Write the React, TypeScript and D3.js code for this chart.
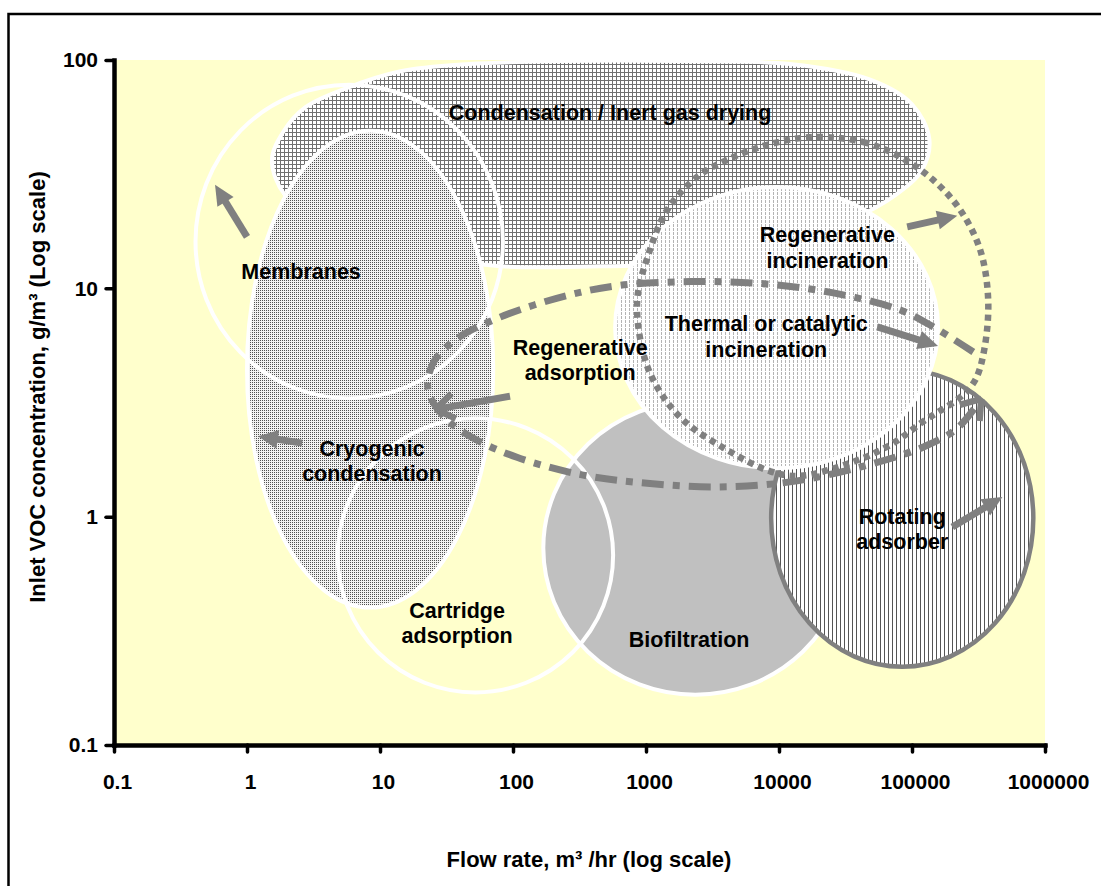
import React, { useEffect, useRef } from "react";
import * as d3 from "d3";

const WIDTH = 1101;
const HEIGHT = 886;

// axis ticks
const xTickValues = [0.1, 1, 10, 100, 1000, 10000, 100000, 1000000];
const xTickLabels = ["0.1", "1", "10", "100", "1000", "10000", "100000", "1000000"];
const yTickValues = [0.1, 1, 10, 100];
const yTickLabels = ["0.1", "1", "10", "100"];

// elliptical windows of each technology: flow m3/hr and inlet conc g/m3
const regionNames = [
  "Membranes",
  "Cryogenic condensation",
  "Cartridge adsorption",
  "Biofiltration",
  "Regenerative incineration",
  "Rotating adsorber",
];
const regionFlowMin = [0.41, 1.0, 4.8, 169, 586, 8730];
const regionFlowMax = [84, 71, 566, 32600, 157000, 817000];
const regionConcMin = [3.3, 0.4, 0.17, 0.166, 1.63, 0.22];
const regionConcMax = [78, 49, 2.7, 3.2, 27.8, 4.4];

// condensation / inert gas drying outline
const condensationFlow = [1.54, 1.87, 2.74, 5.5, 14, 47, 226, 1810, 12100, 48500, 100000, 135000, 119000, 75000, 34400, 10200, 2550, 452, 80, 16.8, 4.2, 1.93];
const condensationConc = [36.5, 48.4, 62, 75, 89, 96, 99, 99, 96, 82, 64, 45, 33, 25.6, 19.9, 15.5, 13, 12.5, 12.5, 14.4, 18.9, 25.6];

// regenerative incineration extended range (dotted)
const dottedFlow = [18100, 43000, 81700, 144500, 231000, 326000, 374000, 349000, 299000, 231000, 126000, 68500, 34400, 14400, 8590, 4070, 1900, 1210, 953, 859, 1040, 1440, 2430, 4070, 8150];
const dottedConc = [46, 43.7, 37.6, 29.8, 22, 14.7, 8.9, 5.37, 3.97, 3.34, 2.65, 2.06, 1.72, 1.51, 1.58, 1.96, 2.65, 3.7, 5.21, 8.9, 14, 22, 30.8, 36.5, 42.5];

// thermal / catalytic incineration range (dash-dot)
const dashFlow = [289000, 144500, 81700, 25600, 7230, 2150, 640, 264, 80, 36.7, 25.1, 23, 30.8, 50.1, 107, 337, 1020, 3430, 12100, 40800, 122000, 219000, 326000];
const dashConc = [5.26, 6.78, 8.03, 9.55, 10.5, 10.7, 10.3, 9.35, 7.48, 5.94, 4.71, 3.59, 2.71, 2.21, 1.82, 1.52, 1.4, 1.35, 1.42, 1.65, 2.02, 2.44, 3.24];

// direction arrows
const arrowTailFlow = [1.0, 2.6, 95, 92000, 54800, 201000];
const arrowTailConc = [16.8, 2.1, 3.37, 18.6, 6.78, 0.9];
const arrowTipFlow = [0.575, 1.21, 26.9, 219000, 157000, 478000];
const arrowTipConc = [28.4, 2.25, 2.96, 20.8, 5.59, 1.22];
const arrowOpen = [false, false, true, false, false, false];

// labels
const labelLines = [
  ["Condensation / Inert gas drying"],
  ["Membranes"],
  ["Regenerative", "incineration"],
  ["Thermal or catalytic", "incineration"],
  ["Regenerative", "adsorption"],
  ["Cryogenic", "condensation"],
  ["Cartridge", "adsorption"],
  ["Biofiltration"],
  ["Rotating", "adsorber"],
];
const labelFlow = [537, 2.55, 23100, 8020, 320, 8.71, 38, 2110, 84500];
const labelConc = [54.6, 11.0, 15.9, 6.5, 5.11, 1.85, 0.36, 0.269, 0.93];

export default function App() {
  const ref = useRef<SVGSVGElement>(null);

  useEffect(() => {
    const svg = d3.select(ref.current);
    svg.selectAll("*").remove();

    const font = "'Liberation Sans', Arial, Helvetica, sans-serif";
    const grey = "#808080";

    const x = d3.scaleLog().domain([0.1, 1000000]).range([114, 1045]);
    const y = d3.scaleLog().domain([0.1, 100]).range([745, 60]);

    // fill patterns
    const defs = svg.append("defs");
    const pattern = (id: string, w: number, h: number, bg: string) => {
      const p = defs
        .append("pattern")
        .attr("id", id)
        .attr("patternUnits", "userSpaceOnUse")
        .attr("width", w)
        .attr("height", h)
        .attr("shape-rendering", "crispEdges");
      p.append("rect").attr("width", w).attr("height", h).attr("fill", bg);
      return p;
    };
    const grid = pattern("grid", 4, 4, "#fff");
    grid.append("rect").attr("width", 4).attr("height", 1).attr("fill", "#707070");
    grid.append("rect").attr("width", 1).attr("height", 4).attr("fill", "#707070");
    const dots = pattern("dots", 2, 2, "#f2f2f2");
    dots.append("rect").attr("width", 1).attr("height", 1).attr("fill", "#505050");
    const vdash = pattern("vdash", 4, 4, "#fff");
    vdash.append("rect").attr("x", 1).attr("width", 1).attr("height", 3).attr("fill", "#b4b4b4");
    const stripes = pattern("stripes", 4, 4, "#fff");
    stripes.append("rect").attr("width", 1).attr("height", 4).attr("fill", "#555");

    // frame and plot background
    svg
      .append("rect")
      .attr("x", 8.5)
      .attr("y", 14)
      .attr("width", 1100)
      .attr("height", 880)
      .attr("fill", "#fff")
      .attr("stroke", "#000")
      .attr("stroke-width", 2.5);
    svg
      .append("rect")
      .attr("x", x(0.1))
      .attr("y", y(100))
      .attr("width", x(1000000) - x(0.1))
      .attr("height", y(0.1) - y(100))
      .attr("fill", "#FFFFCC");

    const closed = d3
      .line<[number, number]>()
      .x((d) => x(d[0]))
      .y((d) => y(d[1]))
      .curve(d3.curveCatmullRomClosed);
    const open = d3
      .line<[number, number]>()
      .x((d) => x(d[0]))
      .y((d) => y(d[1]))
      .curve(d3.curveCatmullRom);

    // Condensation blob
    svg
      .append("path")
      .attr("d", closed(condensationFlow.map((f, i) => [f, condensationConc[i]])))
      .attr("fill", "url(#grid)")
      .attr("stroke", "#fff")
      .attr("stroke-width", 4);

    const ellipse = (i: number, fill: string, stroke: string, sw: number) => {
      const x0 = x(regionFlowMin[i]);
      const x1 = x(regionFlowMax[i]);
      const y0 = y(regionConcMax[i]);
      const y1 = y(regionConcMin[i]);
      svg
        .append("ellipse")
        .attr("class", regionNames[i])
        .attr("cx", (x0 + x1) / 2)
        .attr("cy", (y0 + y1) / 2)
        .attr("rx", (x1 - x0) / 2)
        .attr("ry", (y1 - y0) / 2)
        .attr("fill", fill)
        .attr("stroke", stroke)
        .attr("stroke-width", sw);
    };

    ellipse(1, "url(#dots)", "#fff", 4);
    ellipse(3, "#C0C0C0", "#fff", 4);
    ellipse(5, "url(#stripes)", grey, 4.5);
    ellipse(4, "url(#vdash)", "#fff", 4);
    ellipse(0, "none", "#fff", 4);
    ellipse(2, "none", "#fff", 4);

    // extended ranges
    svg
      .append("path")
      .attr("d", closed(dottedFlow.map((f, i) => [f, dottedConc[i]])))
      .attr("fill", "none")
      .attr("stroke", grey)
      .attr("stroke-width", 6.5)
      .attr("stroke-dasharray", "6,5");
    svg
      .append("path")
      .attr("d", open(dashFlow.map((f, i) => [f, dashConc[i]])))
      .attr("fill", "none")
      .attr("stroke", grey)
      .attr("stroke-width", 7)
      .attr("stroke-dasharray", "22,9,7,9");

    // arrows
    const arrows = svg.append("g").attr("fill", grey).attr("stroke", grey);
    const chevron = (tx: number, ty: number, ang: number) => {
      [-0.65, 0.65].forEach((a) => {
        arrows
          .append("line")
          .attr("x1", tx + 1.5 * Math.cos(ang))
          .attr("y1", ty + 1.5 * Math.sin(ang))
          .attr("x2", tx - 21 * Math.cos(ang + a))
          .attr("y2", ty - 21 * Math.sin(ang + a))
          .attr("stroke-width", 6.5);
      });
    };
    arrowTailFlow.forEach((_, i) => {
      const x1 = x(arrowTailFlow[i]);
      const y1 = y(arrowTailConc[i]);
      const x2 = x(arrowTipFlow[i]);
      const y2 = y(arrowTipConc[i]);
      const ang = Math.atan2(y2 - y1, x2 - x1);
      const c = Math.cos(ang);
      const s = Math.sin(ang);
      if (arrowOpen[i]) {
        arrows.append("line").attr("x1", x1).attr("y1", y1).attr("x2", x2 + 3 * c).attr("y2", y2 + 3 * s).attr("stroke-width", 7);
        chevron(x2, y2, ang);
      } else {
        const L = 20;
        const W = 9.5;
        arrows
          .append("line")
          .attr("x1", x1)
          .attr("y1", y1)
          .attr("x2", x2 - (L - 2) * c)
          .attr("y2", y2 - (L - 2) * s)
          .attr("stroke-width", 7);
        const bx = x2 - L * c;
        const by = y2 - L * s;
        arrows
          .append("path")
          .attr("stroke", "none")
          .attr("d", `M${x2},${y2}L${bx - W * s},${by + W * c}L${bx + W * s},${by - W * c}Z`);
      }
    });
    // arrowhead at end of dash-dot range
    {
      const n = dashFlow.length;
      const xa = x(dashFlow[n - 2]);
      const ya = y(dashConc[n - 2]);
      const xb = x(dashFlow[n - 1]);
      const yb = y(dashConc[n - 1]);
      chevron(xb, yb, Math.atan2(yb - ya, xb - xa));
    }

    // axes
    const xAxis = d3
      .axisBottom(x)
      .tickValues(xTickValues)
      .tickFormat((d, i) => xTickLabels[i])
      .tickSize(7)
      .tickSizeOuter(0)
      .tickPadding(22);
    const gx = svg.append("g").attr("transform", `translate(0,${y(0.1)})`).call(xAxis);
    gx.select(".domain").attr("stroke", "#000").attr("stroke-width", 4.5).attr("stroke-linecap", "square");
    gx.selectAll(".tick line").attr("stroke", "#000").attr("stroke-width", 3.5).attr("stroke-linecap", "round");
    gx.selectAll(".tick text")
      .attr("font-family", font)
      .attr("font-size", 21)
      .attr("font-weight", "bold")
      .attr("fill", "#000")
      .attr("dx", 3);

    const yAxis = d3
      .axisLeft(y)
      .tickValues(yTickValues)
      .tickFormat((d, i) => yTickLabels[i])
      .tickSize(8)
      .tickSizeOuter(0)
      .tickPadding(8);
    const gy = svg.append("g").attr("transform", `translate(${x(0.1)},0)`).call(yAxis);
    gy.select(".domain").attr("stroke", "#000").attr("stroke-width", 4.5).attr("stroke-linecap", "square");
    gy.selectAll(".tick line").attr("stroke", "#000").attr("stroke-width", 3.5).attr("stroke-linecap", "round");
    gy.selectAll(".tick text")
      .attr("font-family", font)
      .attr("font-size", 21)
      .attr("font-weight", "bold")
      .attr("fill", "#000");

    // axis titles
    svg
      .append("text")
      .attr("x", 589)
      .attr("y", 867)
      .attr("text-anchor", "middle")
      .attr("font-family", font)
      .attr("font-size", 22)
      .attr("font-weight", "bold")
      .text("Flow rate, m³ /hr (log scale)");
    svg
      .append("text")
      .attr("transform", "translate(45,387) rotate(-90)")
      .attr("text-anchor", "middle")
      .attr("font-family", font)
      .attr("font-size", 22)
      .attr("font-weight", "bold")
      .text("Inlet VOC concentration, g/m³ (Log scale)");

    // region labels
    labelLines.forEach((lines, i) => {
      const t = svg
        .append("text")
        .attr("x", x(labelFlow[i]))
        .attr("y", y(labelConc[i]))
        .attr("text-anchor", "middle")
        .attr("font-family", font)
        .attr("font-size", 21.5)
        .attr("font-weight", "bold")
        .attr("fill", "#000");
      lines.forEach((line, j) => {
        t.append("tspan")
          .attr("x", x(labelFlow[i]))
          .attr("dy", j === 0 ? 0 : 25.5)
          .text(line);
      });
    });
  }, []);

  return (
    <svg
      ref={ref}
      width={WIDTH}
      height={HEIGHT}
      style={{ position: "absolute", left: 0, top: 0, background: "#fff" }}
    />
  );
}
